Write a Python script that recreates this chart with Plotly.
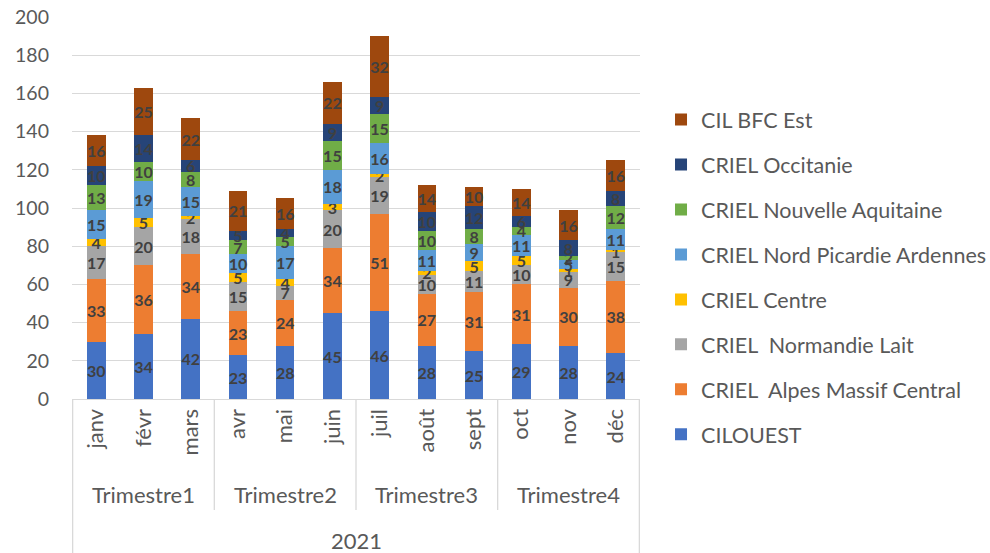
import plotly.graph_objects as go

months = ["janv", "févr", "mars", "avr", "mai", "juin",
          "juil", "août", "sept", "oct", "nov", "déc"]
quarters = ["Trimestre1", "Trimestre2", "Trimestre3", "Trimestre4"]
year_label = "2021"
y_ticks = [0, 20, 40, 60, 80, 100, 120, 140, 160, 180, 200]

cilouest = [30, 34, 42, 23, 28, 45, 46, 28, 25, 29, 28, 24]
alpes = [33, 36, 34, 23, 24, 34, 51, 27, 31, 31, 30, 38]
normandie = [17, 20, 18, 15, 7, 20, 19, 10, 11, 10, 9, 15]
centre = [4, 5, 2, 5, 4, 3, 2, 2, 5, 5, 1, 1]
nord = [15, 19, 15, 10, 17, 18, 16, 11, 9, 11, 5, 11]
aquitaine = [13, 10, 8, 7, 5, 15, 15, 10, 8, 4, 2, 12]
occitanie = [10, 14, 6, 5, 4, 9, 9, 10, 12, 6, 8, 8]
bfc = [16, 25, 22, 21, 16, 22, 32, 14, 10, 14, 16, 16]

series = [
    ("CILOUEST", cilouest, "#4472C4"),
    ("CRIEL \u00a0Alpes Massif Central", alpes, "#ED7D31"),
    ("CRIEL \u00a0Normandie Lait", normandie, "#A5A5A5"),
    ("CRIEL Centre", centre, "#FFC000"),
    ("CRIEL Nord Picardie Ardennes", nord, "#5B9BD5"),
    ("CRIEL Nouvelle Aquitaine", aquitaine, "#70AD47"),
    ("CRIEL Occitanie", occitanie, "#264478"),
    ("CIL BFC Est", bfc, "#9E480E"),
]

FONT = "Lato, Calibri, 'Liberation Sans', sans-serif"
GRAY = "#595959"
LINE = "#D9D9D9"

fig = go.Figure()
n = len(series)
for i, (name, vals, color) in enumerate(series):
    fig.add_trace(go.Bar(
        x=months, y=vals, name=name,
        marker=dict(color=color, line=dict(width=0)),
        text=vals, textposition="inside", insidetextanchor="middle",
        textangle=0, constraintext="none",
        textfont=dict(family=FONT, size=16, color="#404040", weight="bold"),
        legendgroup=f"g{i}", legendrank=1000 + (n - i),
        hoverinfo="name+y",
    ))

shapes = []
for xv, ybot in [(-0.5, -0.4031), (2.5, -0.2906), (5.5, -0.2906),
                 (8.5, -0.2906), (11.5, -0.4031)]:
    shapes.append(dict(type="line", xref="x", yref="paper",
                       x0=xv, x1=xv, y0=0, y1=ybot,
                       line=dict(color=LINE, width=1.3)))

annotations = []
for qi, q in enumerate(quarters):
    annotations.append(dict(text=q, xref="x", yref="paper", x=qi * 3 + 1,
                            y=-0.2513, showarrow=False, yanchor="middle",
                            font=dict(family=FONT, size=22, color=GRAY)))
annotations.append(dict(text=year_label, xref="x", yref="paper", x=5.5,
                        y=-0.3717, showarrow=False, yanchor="middle",
                        font=dict(family=FONT, size=22, color=GRAY)))

fig.update_layout(
    width=990, height=553,
    margin=dict(l=72, r=350, t=17, b=154, autoexpand=False),
    barmode="stack", bargap=0.605,
    plot_bgcolor="white", paper_bgcolor="white",
    font=dict(family=FONT, color=GRAY),
    uniformtext=dict(minsize=16, mode="show"),
    showlegend=True,
    legend=dict(x=1.037, y=0.785, xanchor="left", yanchor="top",
                traceorder="grouped", tracegroupgap=14,
                font=dict(family=FONT, size=21.5, color=GRAY),
                bgcolor="rgba(0,0,0,0)"),
    shapes=shapes, annotations=annotations,
)
fig.update_xaxes(type="category", tickangle=-90, showgrid=False,
                 showline=True, linecolor=LINE, linewidth=1.3,
                 ticks="", ticklabelstandoff=0, automargin=False,
                 tickfont=dict(family=FONT, size=22, color=GRAY))
fig.update_yaxes(range=[0, 200], tickvals=y_ticks, showgrid=True,
                 gridcolor=LINE, gridwidth=1.3, zeroline=False,
                 showline=False, ticks="", ticklabelstandoff=22,
                 automargin=False,
                 tickfont=dict(family=FONT, size=19.5, color=GRAY))

fig.write_html("out.html", config={"displayModeBar": False},
               post_script="document.body.style.margin='0';document.body.style.overflow='hidden';")
